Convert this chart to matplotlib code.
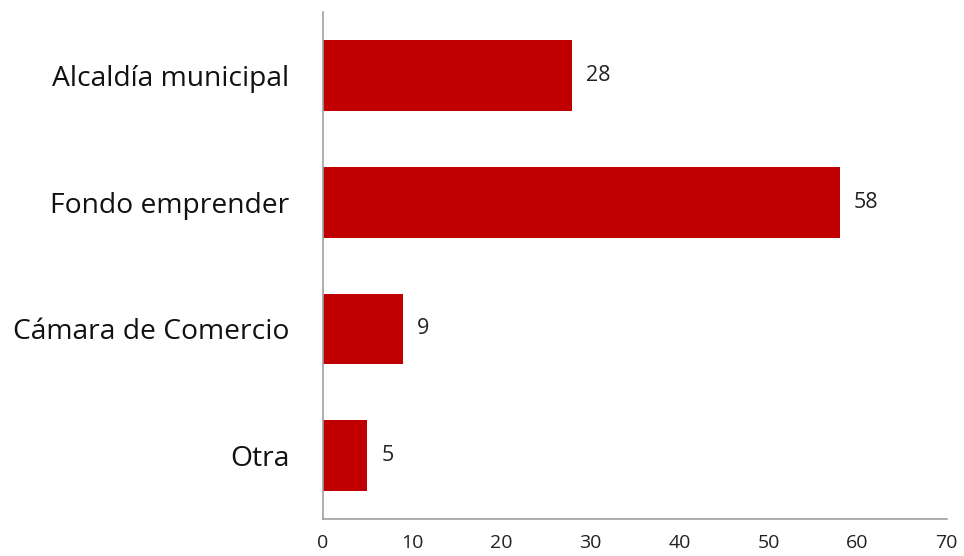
import matplotlib.pyplot as plt
import numpy as np

# Data
categories = ["Alcaldía municipal", "Fondo emprender", "Cámara de Comercio", "Otra"]
values = [28, 58, 9, 5]
x_ticks = [0, 10, 20, 30, 40, 50, 60, 70]

plt.rcParams["font.family"] = ["Open Sans", "DejaVu Sans"]

fig = plt.figure(figsize=(9.64, 5.56), dpi=100)
ax = fig.add_axes([0.335, 0.0665, 0.647, 0.9115])

y = np.arange(len(categories))
ax.barh(y, values, height=0.56, color="#C00000")

for yi, v in zip(y, values):
    ax.annotate(str(v), (v, yi), xytext=(10, 0), textcoords="offset points",
                va="center", ha="left", fontsize=15.5, color="#222222")

ax.set_ylim(len(categories) - 0.5, -0.5)
ax.set_xlim(0, 70)
ax.set_xticks(x_ticks)
ax.set_yticks(y)
ax.set_yticklabels(categories, fontsize=20.3, color="#111111")
ax.tick_params(axis="x", length=0, pad=11, labelsize=14, labelcolor="#222222")
ax.tick_params(axis="y", length=0, pad=24)

for side in ["top", "right"]:
    ax.spines[side].set_visible(False)
for side in ["left", "bottom"]:
    ax.spines[side].set_color("#A0A0A0")
    ax.spines[side].set_linewidth(1.2)

plt.savefig("out.png", dpi=100)
